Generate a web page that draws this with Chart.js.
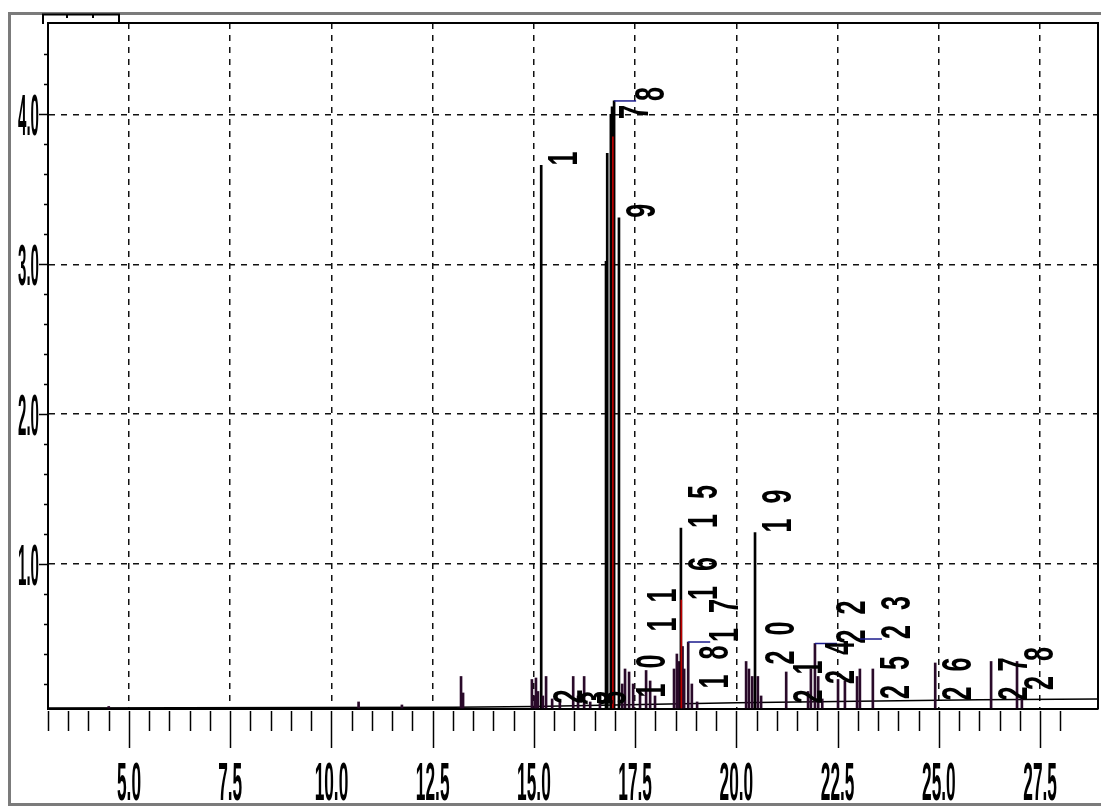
<!DOCTYPE html>
<html>
<head>
<meta charset="utf-8">
<script src="https://cdn.jsdelivr.net/npm/chart.js@4.4.1/dist/chart.umd.min.js"></script>
<style>
  html, body { margin: 0; padding: 0; background: #fff; }
  #frame { position: absolute; left: 8px; top: 12px; width: 1100px; height: 788px; border: 3px solid #7b7b7b; border-right: none; }
  #wrap { position: absolute; left: 0; top: 0; width: 1101px; height: 812px; }
</style>
</head>
<body>
<div id="frame"></div>
<div id="wrap"><canvas id="chart" width="1101" height="812"></canvas></div>
<script>
// retention time (min) and height of each peak
const peakTimes = [4.50, 10.67, 11.74, 13.20, 13.25, 14.95, 15.02, 15.05, 15.10, 15.18, 15.22, 15.30, 15.45, 15.64,
    15.97, 16.09, 16.24, 16.39, 16.63, 16.78, 16.81, 16.90, 16.93, 16.98, 17.10, 17.18, 17.25, 17.35, 17.45,
    17.62, 17.77, 17.87, 17.99, 18.46, 18.53, 18.58, 18.63, 18.67, 18.71, 18.81, 18.90, 19.03, 20.24, 20.31,
    20.39, 20.46, 20.53, 20.61, 21.23, 21.77, 21.84, 21.94, 22.02, 22.12, 22.51, 22.68, 22.98, 23.05, 23.37,
    24.91, 26.29, 26.93, 27.05];
const peakHeights = [0.05, 0.08, 0.06, 0.25, 0.14, 0.23, 0.12, 0.24, 0.15, 3.66, 0.12, 0.25, 0.10, 0.08,
    0.25, 0.12, 0.25, 0.08, 0.07, 3.02, 3.74, 4.00, 4.05, 4.09, 3.31, 0.20, 0.30, 0.28, 0.20,
    0.15, 0.29, 0.22, 0.12, 0.30, 0.40, 0.35, 1.24, 0.45, 0.30, 0.48, 0.20, 0.08, 0.35, 0.30,
    0.25, 1.21, 0.25, 0.12, 0.28, 0.15, 0.30, 0.47, 0.25, 0.10, 0.23, 0.22, 0.25, 0.30, 0.30,
    0.34, 0.35, 0.35, 0.12];
const spikeFloor = 0.04;

// second (red) channel
const redTimes = [16.95, 18.64];
const redHeights = [3.85, 0.76];

// drifting baseline
const baseTimes = [3.0, 13.0, 15.0, 17.0, 20.0, 23.0, 26.0, 28.93];
const baseValues = [0.04, 0.045, 0.05, 0.06, 0.075, 0.085, 0.095, 0.10];

// peak number labels
const labelTexts = ['1', '2', '3', '5', '7', '8', '9', '10', '11', '15', '16', '17', '18', '19', '20',
    '21', '22', '23', '24', '25', '26', '27', '28'];
const labelTimes = [15.18, 15.30, 15.97, 16.39, 16.93, 16.98, 17.10, 17.35, 17.62, 18.63, 18.64, 18.81, 18.90, 20.46, 20.53,
    21.23, 21.94, 23.05, 22.02, 23.37, 24.91, 26.29, 26.93];
const labelLevels = [3.66, 0.07, 0.06, 0.06, 3.97, 4.09, 3.31, 0.11, 0.55, 1.24, 0.76, 0.48, 0.17, 1.21, 0.33,
    0.07, 0.47, 0.50, 0.20, 0.10, 0.09, 0.09, 0.16];
const labelLeader = [0, 0, 0, 0, 0, 1, 0, 0, 0, 0, 0, 1, 0, 0, 0,
    0, 1, 1, 0, 0, 0, 0, 0];

const xTickLabels = ['5.0', '7.5', '10.0', '12.5', '15.0', '17.5', '20.0', '22.5', '25.0', '27.5'];
const yTickLabels = ['1.0', '2.0', '3.0', '4.0'];

const isMajorX = v => v >= 4.99 && Math.abs(v / 2.5 - Math.round(v / 2.5)) < 1e-6;
const isMajorY = v => v >= 0.99 && Math.abs(v - Math.round(v)) < 1e-6;

const spikes = peakTimes.map((t, i) => ({x: t, y: [spikeFloor, peakHeights[i]]}));
const redSpikes = redTimes.map((t, i) => ({x: t, y: [spikeFloor, redHeights[i]]}));
const baseline = baseTimes.map((t, i) => ({x: t, y: baseValues[i]}));

function squeezedText(ctx, text, x, y, sx, font, align) {
    ctx.save();
    ctx.translate(x, y);
    ctx.scale(sx, 1);
    ctx.font = font;
    ctx.textAlign = align;
    ctx.textBaseline = 'alphabetic';
    ctx.fillText(text, 0, 0);
    ctx.restore();
}

const chromPlugin = {
    id: 'chrom',
    afterDatasetsDraw(chart) {
        const {ctx, scales: {x, y}} = chart;
        ctx.save();
        ctx.fillStyle = '#000';
        labelTexts.forEach((txt, i) => {
            const px = x.getPixelForValue(labelTimes[i]);
            const py = y.getPixelForValue(labelLevels[i]);
            const shift = labelLeader[i] ? 20 : 6;
            if (labelLeader[i]) {
                ctx.strokeStyle = '#1a1a8c';
                ctx.lineWidth = 1.5;
                ctx.beginPath();
                ctx.moveTo(px, py);
                ctx.lineTo(px + shift + 2, py);
                ctx.stroke();
            }
            for (let k = 0; k < txt.length; k++) {
                ctx.save();
                ctx.translate(px + shift + 30, py - 7 - k * 29);
                ctx.rotate(-Math.PI / 2);
                ctx.scale(0.6, 1);
                ctx.font = 'bold 42px "Liberation Sans", Arial, sans-serif';
                ctx.textAlign = 'center';
                ctx.textBaseline = 'alphabetic';
                ctx.fillText(txt[k], 0, 0);
                ctx.restore();
            }
        });
        ctx.restore();
    },
    afterDraw(chart) {
        const {ctx, chartArea: a, scales: {x, y}} = chart;
        ctx.save();
        ctx.strokeStyle = '#000';
        ctx.lineWidth = 2;
        ctx.beginPath();
        ctx.moveTo(a.left, a.top);
        ctx.lineTo(a.right, a.top);
        ctx.lineTo(a.right, a.bottom);
        ctx.stroke();

        // small scroll box top left
        ctx.beginPath();
        ctx.moveTo(43, 24); ctx.lineTo(43, 14.5); ctx.lineTo(119, 14.5); ctx.lineTo(119, 23);
        ctx.moveTo(67, 14); ctx.lineTo(67, 18);
        ctx.moveTo(93, 14); ctx.lineTo(93, 18);
        ctx.stroke();

        // tick marks
        ctx.lineWidth = 1.5;
        x.ticks.forEach(t => {
            const v = t.value;
            if (Math.abs(v * 2 - Math.round(v * 2)) > 1e-6) return;
            const px = Math.round(x.getPixelForValue(v)) + 0.5;
            ctx.beginPath();
            ctx.moveTo(px, a.bottom + 2);
            ctx.lineTo(px, a.bottom + (isMajorX(v) ? 39 : 22));
            ctx.stroke();
        });
        y.ticks.forEach(t => {
            const v = t.value;
            if (Math.abs(v * 5 - Math.round(v * 5)) > 1e-6 || v < 0.1) return;
            const py = Math.round(y.getPixelForValue(v)) + 0.5;
            ctx.beginPath();
            ctx.moveTo(a.left - (isMajorY(v) ? 9 : 4), py);
            ctx.lineTo(a.left, py);
            ctx.stroke();
        });

        // tick labels
        ctx.fillStyle = '#000';
        xTickLabels.forEach(s => {
            const px = x.getPixelForValue(parseFloat(s));
            squeezedText(ctx, s, px, 800, 0.32, 'bold 54px "Liberation Sans", Arial, sans-serif', 'center');
        });
        yTickLabels.forEach(s => {
            const py = y.getPixelForValue(parseFloat(s));
            squeezedText(ctx, s, 39, py + 21, 0.26, 'bold 58px "Liberation Sans", Arial, sans-serif', 'right');
        });
        ctx.restore();
    }
};

const chart = new Chart(document.getElementById('chart'), {
    type: 'bar',
    data: {
        datasets: [
            {
                type: 'bar',
                label: 'red',
                data: redSpikes,
                backgroundColor: '#c00000',
                barThickness: 1,
                order: 0
            },
            {
                type: 'bar',
                label: 'peaks',
                data: spikes,
                backgroundColor: c => (c.raw && c.raw.y[1] > 1 ? '#000' : '#2a0a2a'),
                barThickness: 2,
                order: 1
            },
            {
                type: 'line',
                label: 'baseline',
                data: baseline,
                borderColor: '#000',
                borderWidth: 1.5,
                pointRadius: 0,
                tension: 0,
                order: 2
            }
        ]
    },
    options: {
        responsive: false,
        devicePixelRatio: 1,
        animation: false,
        events: [],
        layout: { padding: { left: 8, top: 23, right: 3, bottom: 0 } },
        plugins: { legend: { display: false }, tooltip: { enabled: false } },
        datasets: { bar: { grouped: false } },
        scales: {
            x: {
                type: 'linear',
                min: 3.0,
                max: 28.93,
                offset: false,
                ticks: { display: false, stepSize: 0.5 },
                grid: {
                    offset: false,
                    drawTicks: false,
                    lineWidth: 1.5,
                    color: c => (isMajorX(c.tick.value) ? '#111' : 'rgba(0,0,0,0)')
                },
                border: { display: true, color: '#000', width: 2, dash: [6, 6] },
                afterFit: s => { s.height = 103; }
            },
            y: {
                type: 'linear',
                min: 0.033,
                max: 4.61,
                ticks: { display: false, stepSize: 0.2 },
                grid: {
                    drawTicks: false,
                    lineWidth: 1.5,
                    color: c => (isMajorY(c.tick.value) ? '#111' : 'rgba(0,0,0,0)')
                },
                border: { display: true, color: '#000', width: 2, dash: [6, 6] },
                afterFit: s => { s.width = 40; }
            }
        }
    },
    plugins: [chromPlugin]
});
</script>
</body>
</html>
